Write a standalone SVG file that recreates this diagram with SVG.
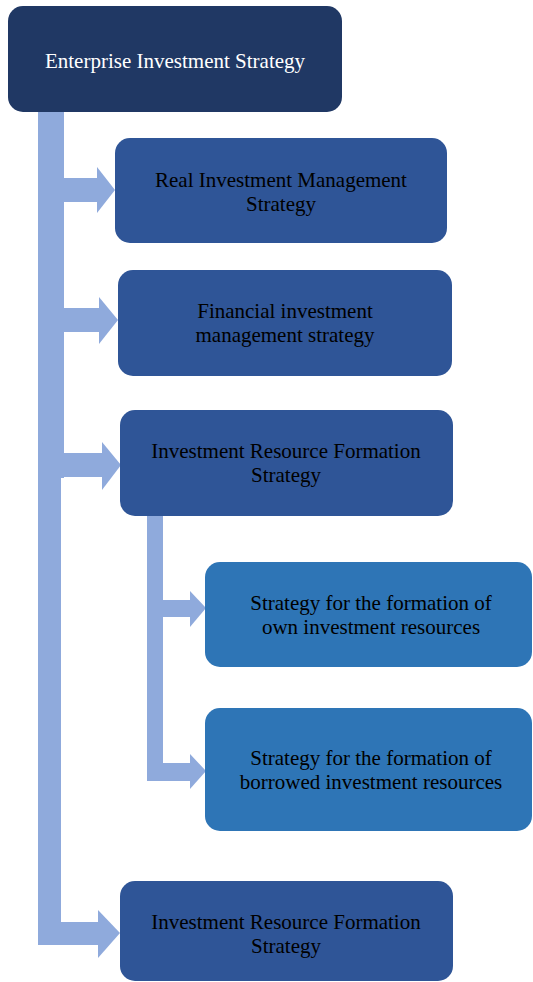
<svg xmlns="http://www.w3.org/2000/svg" width="533" height="982" viewBox="0 0 533 982">
  <style>
    .bar { fill: #8faadc; }
    .top { fill: #203864; }
    .mid { fill: #2f5597; }
    .sub { fill: #2e75b6; }
    text { font-family: "Liberation Serif", "Times New Roman", serif; font-size: 21px; text-anchor: middle; fill: #000000; }
    .light { fill: #ffffff; }
  </style>

  <!-- connectors: main trunk, sub trunk and branch arrows -->
  <g id="connectors">
    <rect class="bar" x="38" y="112" width="26" height="366"/>
    <rect class="bar" x="38" y="477" width="23" height="468"/>
    <!-- to Real Investment Management Strategy -->
    <rect class="bar" x="63" y="178" width="35" height="24"/>
    <polygon class="bar" points="97,167 115,190 97,213"/>
    <!-- to Financial investment management strategy -->
    <rect class="bar" x="63" y="308" width="37" height="24"/>
    <polygon class="bar" points="99,297 118,320 99,344"/>
    <!-- to Investment Resource Formation Strategy -->
    <rect class="bar" x="63" y="453" width="40" height="24"/>
    <polygon class="bar" points="102,442 121,465 102,490"/>
    <!-- to bottom Investment Resource Formation Strategy -->
    <rect class="bar" x="38" y="922" width="61" height="23"/>
    <polygon class="bar" points="98,910 120,933 98,958"/>
    <!-- sub trunk -->
    <rect class="bar" x="147" y="516" width="16" height="265"/>
    <rect class="bar" x="162" y="600" width="29" height="17"/>
    <polygon class="bar" points="190,591 206,608 190,627"/>
    <rect class="bar" x="162" y="763" width="29" height="18"/>
    <polygon class="bar" points="190,754 206,771 190,789"/>
  </g>

  <g id="node-enterprise">
    <rect class="top" x="8" y="6" width="334" height="106" rx="15"/>
    <text class="light" x="175" y="68">Enterprise Investment Strategy</text>
  </g>

  <g id="node-real">
    <rect class="mid" x="115" y="138" width="332" height="105" rx="15"/>
    <text x="281" y="187">Real Investment Management</text>
    <text x="281" y="211">Strategy</text>
  </g>

  <g id="node-financial">
    <rect class="mid" x="118" y="270" width="334" height="106" rx="15"/>
    <text x="285" y="318">Financial investment</text>
    <text x="285" y="342">management strategy</text>
  </g>

  <g id="node-resource">
    <rect class="mid" x="120" y="410" width="333" height="106" rx="15"/>
    <text x="286" y="458">Investment Resource Formation</text>
    <text x="286" y="482">Strategy</text>
  </g>

  <g id="node-own">
    <rect class="sub" x="205" y="562" width="327" height="105" rx="15"/>
    <text x="371" y="610">Strategy for the formation of</text>
    <text x="371" y="634">own investment resources</text>
  </g>

  <g id="node-borrowed">
    <rect class="sub" x="205" y="708" width="327" height="123" rx="15"/>
    <text x="371" y="765">Strategy for the formation of</text>
    <text x="371" y="789">borrowed investment resources</text>
  </g>

  <g id="node-resource-bottom">
    <rect class="mid" x="120" y="881" width="333" height="100" rx="15"/>
    <text x="286" y="929">Investment Resource Formation</text>
    <text x="286" y="953">Strategy</text>
  </g>
</svg>
